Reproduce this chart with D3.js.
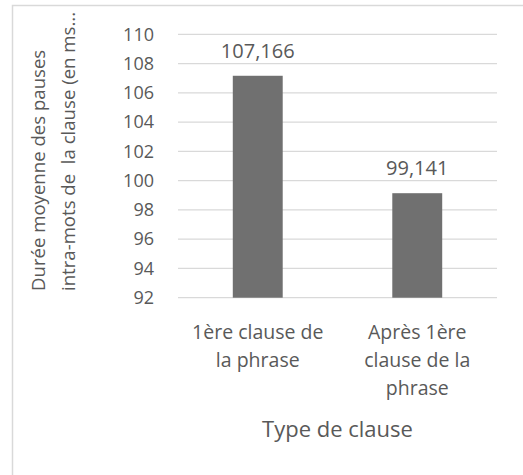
<!DOCTYPE html>
<html>
<head>
<meta charset="utf-8">
<script src="https://cdn.jsdelivr.net/npm/d3@7"></script>
<style>
  html, body { margin: 0; padding: 0; background: #fff; }
  svg text { font-family: "Open Sans", "Noto Sans", sans-serif; fill: #595959; white-space: pre; }
</style>
</head>
<body>
<svg id="chart" width="523" height="475"></svg>
<script>
// Mean intra-word pause duration by clause position
const categories = [["1ère clause de", "la phrase"], ["Après 1ère", "clause de la", "phrase"]];
const values = [107.166, 99.141];
const valueLabels = ["107,166", "99,141"];
const yTicks = [92, 94, 96, 98, 100, 102, 104, 106, 108, 110];
const yTitleLines = ["Durée moyenne des pauses", "intra-mots de  la clause (en ms..."];
const xTitle = "Type de clause";

const svg = d3.select("#chart");
const plot = { left: 178, right: 497, top: 34.3, bottom: 297.7 };

// chart area border
svg.append("rect")
  .attr("x", 12.5).attr("y", 5.5)
  .attr("width", 530).attr("height", 490)
  .attr("fill", "none").attr("stroke", "#d9d9d9").attr("stroke-width", 1.5);

const y = d3.scaleLinear().domain([92, 110]).range([plot.bottom, plot.top]);
const x = d3.scaleBand().domain(d3.range(categories.length))
  .range([plot.left, plot.right]).paddingInner(0.687).paddingOuter(0.3435);

// gridlines
svg.append("g").selectAll("line").data(yTicks).join("line")
  .attr("x1", plot.left).attr("x2", plot.right)
  .attr("y1", d => y(d)).attr("y2", d => y(d))
  .attr("stroke", "#d9d9d9").attr("stroke-width", 1.3);

// y axis labels
const yAxis = d3.axisLeft(y).tickValues(yTicks).tickSize(0).tickPadding(0);
const gy = svg.append("g").attr("transform", `translate(${plot.left - 24},0)`).call(yAxis);
gy.select(".domain").remove();
gy.selectAll("text").attr("font-size", 18).attr("font-family", null).attr("fill", "#595959");

// bars
svg.append("g").selectAll("rect").data(values).join("rect")
  .attr("x", (d, i) => x(i)).attr("width", x.bandwidth())
  .attr("y", d => y(d)).attr("height", d => y(92) - y(d))
  .attr("fill", "#707070");

// value labels
svg.append("g").selectAll("text").data(values).join("text")
  .attr("x", (d, i) => x(i) + x.bandwidth() / 2)
  .attr("y", d => y(d) - 18)
  .attr("text-anchor", "middle").attr("font-size", 20)
  .text((d, i) => valueLabels[i]);

// category labels
const cat = svg.append("g").selectAll("text").data(categories).join("text")
  .attr("text-anchor", "middle").attr("font-size", 19.5);
cat.each(function(lines, i) {
  d3.select(this).selectAll("tspan").data(lines).join("tspan")
    .attr("x", x(i) + x.bandwidth() / 2)
    .attr("y", (l, j) => 339 + j * 28)
    .text(l => l);
});

// x axis title
svg.append("text")
  .attr("x", (plot.left + plot.right) / 2).attr("y", 437)
  .attr("text-anchor", "middle").attr("font-size", 22)
  .text(xTitle);

// y axis title (two lines)
svg.append("g").selectAll("text").data(yTitleLines).join("text")
  .attr("transform", (d, i) => `translate(${45 + i * 30},291) rotate(-90)`)
  .attr("text-anchor", "start").attr("font-size", 18.6)
  .text(d => d);
</script>
</body>
</html>
